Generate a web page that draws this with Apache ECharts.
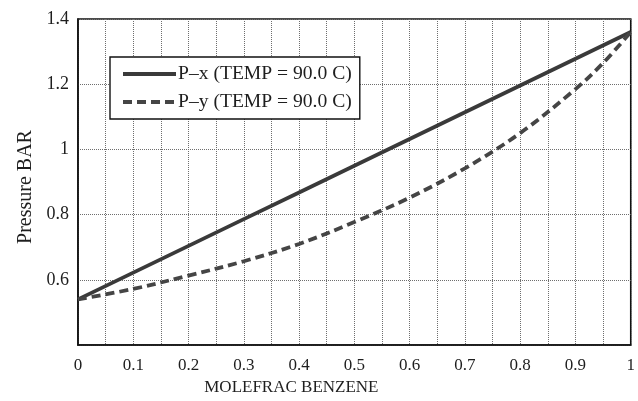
<!DOCTYPE html>
<html>
<head>
<meta charset="utf-8">
<script src="https://cdn.jsdelivr.net/npm/echarts@6/dist/echarts.min.js"></script>
<style>
  html, body { margin: 0; padding: 0; background: #ffffff; }
  #chart { width: 638px; height: 401px; }
</style>
</head>
<body>
<div id="chart"></div>
<script>
// Benzene–toluene style P-x-y diagram at 90.0 C
const xLiquid = [0, 0.1, 0.2, 0.3, 0.4, 0.5, 0.6, 0.7, 0.8, 0.9, 1.0];
const pLiquid = [0.54, 0.622, 0.704, 0.786, 0.868, 0.95, 1.032, 1.114, 1.196, 1.278, 1.36];

const yVapour = [0, 0.1, 0.2, 0.3, 0.4, 0.5, 0.6, 0.7, 0.8, 0.9, 0.95, 1.0];
const pVapour = [0.54, 0.572, 0.613, 0.657, 0.71, 0.777, 0.852, 0.942, 1.05, 1.185, 1.265, 1.36];

const xTickLabels = ['0', '0.1', '0.2', '0.3', '0.4', '0.5', '0.6', '0.7', '0.8', '0.9', '1'];
const yTickLabels = ['0.6', '0.8', '1', '1.2', '1.4'];

const seriesNames = ['P\u2013x (TEMP = 90.0 C)', 'P\u2013y (TEMP = 90.0 C)'];

const FONT = '"Liberation Serif", "DejaVu Serif", serif';
const INK = '#1e1e1e';

const pairs = (xs, ys) => xs.map((x, i) => [x, ys[i]]);

const chart = echarts.init(document.getElementById('chart'), null, { renderer: 'canvas' });

chart.setOption({
  backgroundColor: '#ffffff',
  animation: false,
  textStyle: { fontFamily: FONT, color: INK },
  grid: {
    left: 78, right: 4, top: 19, bottom: 50,
    show: true,
    borderColor: '#111111',
    borderWidth: 1.6,
    backgroundColor: 'transparent'
  },
  legend: {
    left: 110, top: 57,
    orient: 'vertical',
    data: seriesNames,
    itemWidth: 53,
    itemHeight: 14,
    itemGap: 8,
    padding: [7, 8, 7, 11],
    borderColor: '#111111',
    borderWidth: 1.4,
    backgroundColor: '#ffffff',
    itemStyle: { opacity: 0 },
    lineStyle: { width: 4 },
    textStyle: { fontFamily: FONT, fontSize: 19.6, color: INK, padding: [0, 0, 0, -3] },
    selectedMode: false
  },
  xAxis: {
    type: 'value',
    min: 0, max: 1, interval: 0.05,
    name: 'MOLEFRAC BENZENE',
    nameLocation: 'middle',
    nameGap: 34,
    nameTextStyle: { fontFamily: FONT, fontSize: 17, color: INK, padding: [0, 126, 0, 0] },
    axisLine: { show: true, onZero: false, lineStyle: { color: '#111111', width: 1.6 } },
    axisTick: { show: false },
    axisLabel: {
      fontFamily: FONT, fontSize: 17, color: INK, margin: 12,
      showMinLabel: true, showMaxLabel: true,
      formatter: function (v) {
        const k = Math.round(v * 20);
        return k % 2 === 0 ? xTickLabels[k / 2] : '';
      }
    },
    splitLine: { show: true, lineStyle: { color: '#6e6e6e', width: 1, type: [1, 1] } }
  },
  yAxis: {
    type: 'value',
    min: 0.4, max: 1.4, interval: 0.2,
    name: 'Pressure BAR',
    nameLocation: 'middle',
    nameGap: 40,
    nameRotate: 90,
    nameTextStyle: { fontFamily: FONT, fontSize: 20, color: INK, padding: [0, 10, 0, 0] },
    axisLine: { show: true, onZero: false, lineStyle: { color: '#111111', width: 1.6 } },
    axisTick: { show: false },
    axisLabel: {
      fontFamily: FONT, fontSize: 18, color: INK, margin: 9,
      formatter: function (v) {
        const k = Math.round((v - 0.6) / 0.2);
        return k >= 0 ? yTickLabels[k] : '';
      }
    },
    splitLine: { show: true, lineStyle: { color: '#6e6e6e', width: 1, type: [1, 1] } }
  },
  series: [
    {
      name: seriesNames[0],
      type: 'line',
      data: pairs(xLiquid, pLiquid),
      symbol: 'none',
      smooth: false,
      z: 3,
      lineStyle: { color: '#3a3a3a', width: 3.8, type: 'solid' },
      itemStyle: { color: '#3a3a3a' }
    },
    {
      name: seriesNames[1],
      type: 'line',
      data: pairs(yVapour, pVapour),
      symbol: 'none',
      smooth: 0.35,
      z: 3,
      lineStyle: { color: '#454545', width: 3.8, type: [9, 5] },
      itemStyle: { color: '#454545' }
    }
  ]
});
</script>
</body>
</html>
